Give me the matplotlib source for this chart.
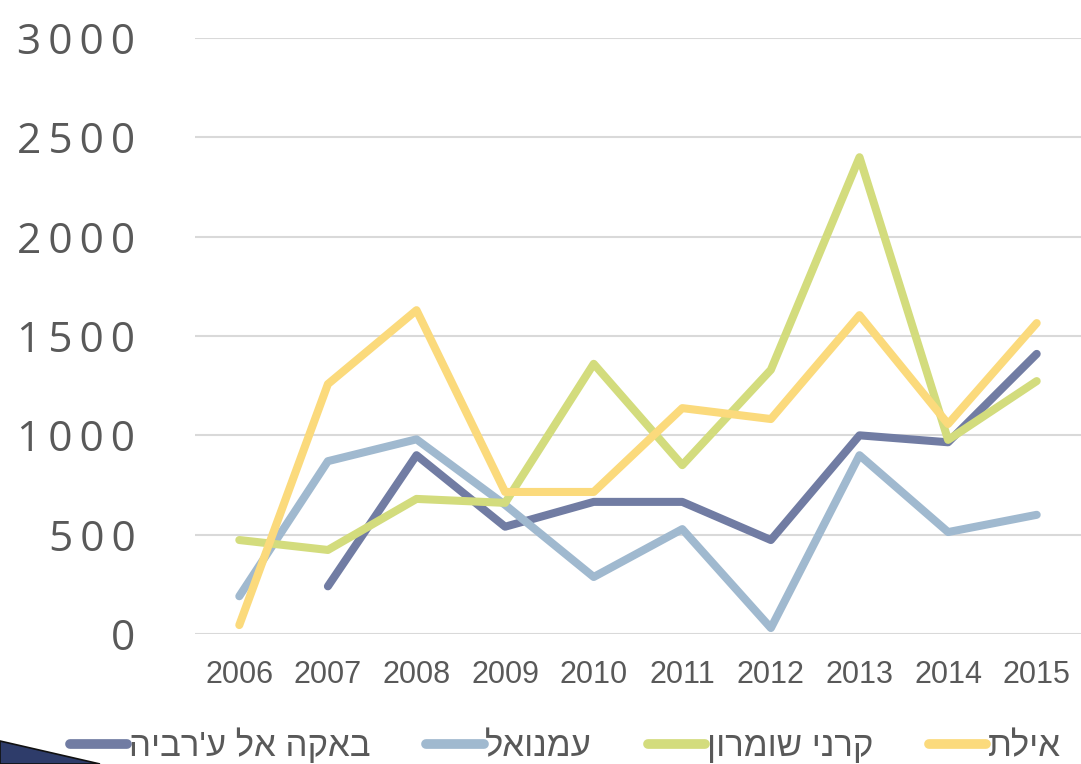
import matplotlib
matplotlib.use("Agg")
import matplotlib.pyplot as plt
from matplotlib.patches import Polygon

years = ["2006", "2007", "2008", "2009", "2010", "2011", "2012", "2013", "2014", "2015"]
baqa = [None, 240, 900, 540, 665, 665, 473, 1000, 965, 1410]
emmanuel = [190, 870, 980, 650, 287, 528, 30, 900, 513, 600]
karnei = [473, 423, 680, 660, 1360, 850, 1330, 2400, 977, 1273]
eilat = [45, 1258, 1630, 715, 715, 1137, 1082, 1605, 1057, 1565]

names = ["באקה אל ע'רביה", "עמנואל", "קרני שומרון", "אילת"]
colors = ["#717CA3", "#A0B9CF", "#D3DC7D", "#FBDA7C"]
series = [baqa, emmanuel, karnei, eilat]
yticks = [0, 500, 1000, 1500, 2000, 2500, 3000]

W, H = 1081, 764
fig = plt.figure(figsize=(W / 100, H / 100), dpi=100)
ax = fig.add_axes([195 / W, 1 - 634 / H, 1 - 195 / W, (634 - 38) / H])

x = list(range(len(years)))
for vals, c, n in zip(series, colors, names):
    xs = [xi for xi, v in zip(x, vals) if v is not None]
    vs = [v for v in vals if v is not None]
    ax.plot(xs, vs, color=c, lw=5.8, solid_capstyle="round", solid_joinstyle="round",
            label=n[::-1])

ax.set_xlim(-0.5, 9.5)
ax.set_ylim(0, 3000)
ax.set_yticks(yticks)
ax.set_yticklabels(["\u2009".join(str(t)) for t in yticks],
                   family=["Open Sans", "DejaVu Sans"], fontsize=30.5, color="#595959")
ax.set_xticks(x)
ax.set_xticklabels(years, family=["Liberation Sans", "DejaVu Sans"],
                   fontsize=22, color="#595959")
ax.tick_params(axis="y", length=0, pad=43)
ax.tick_params(axis="x", length=0, pad=19)
ax.grid(axis="y", color="#D9D9D9", lw=1.5)
ax.set_axisbelow(True)
for s in ax.spines.values():
    s.set_visible(False)

leg = fig.legend(loc="center left", bbox_to_anchor=(70 / W, 1 - 745 / H), ncol=4,
                 frameon=False, handlelength=1.65, handletextpad=0.05, columnspacing=1.6,
                 prop={"family": ["Liberation Sans", "DejaVu Sans"], "size": 25},
                 borderaxespad=0, borderpad=0)
for t in leg.get_texts():
    t.set_color("#595959")
for l in leg.get_lines():
    l.set_linewidth(7)

# decorative slide wedge at bottom-left
poly = Polygon([(0, 1 - 741 / H), (100 / W, 0), (0, 0)], closed=True,
               transform=fig.transFigure, facecolor="#2E3C6A", edgecolor="#111111", lw=1.2)
fig.patches.append(poly)

fig.savefig("out.png", dpi=100)
